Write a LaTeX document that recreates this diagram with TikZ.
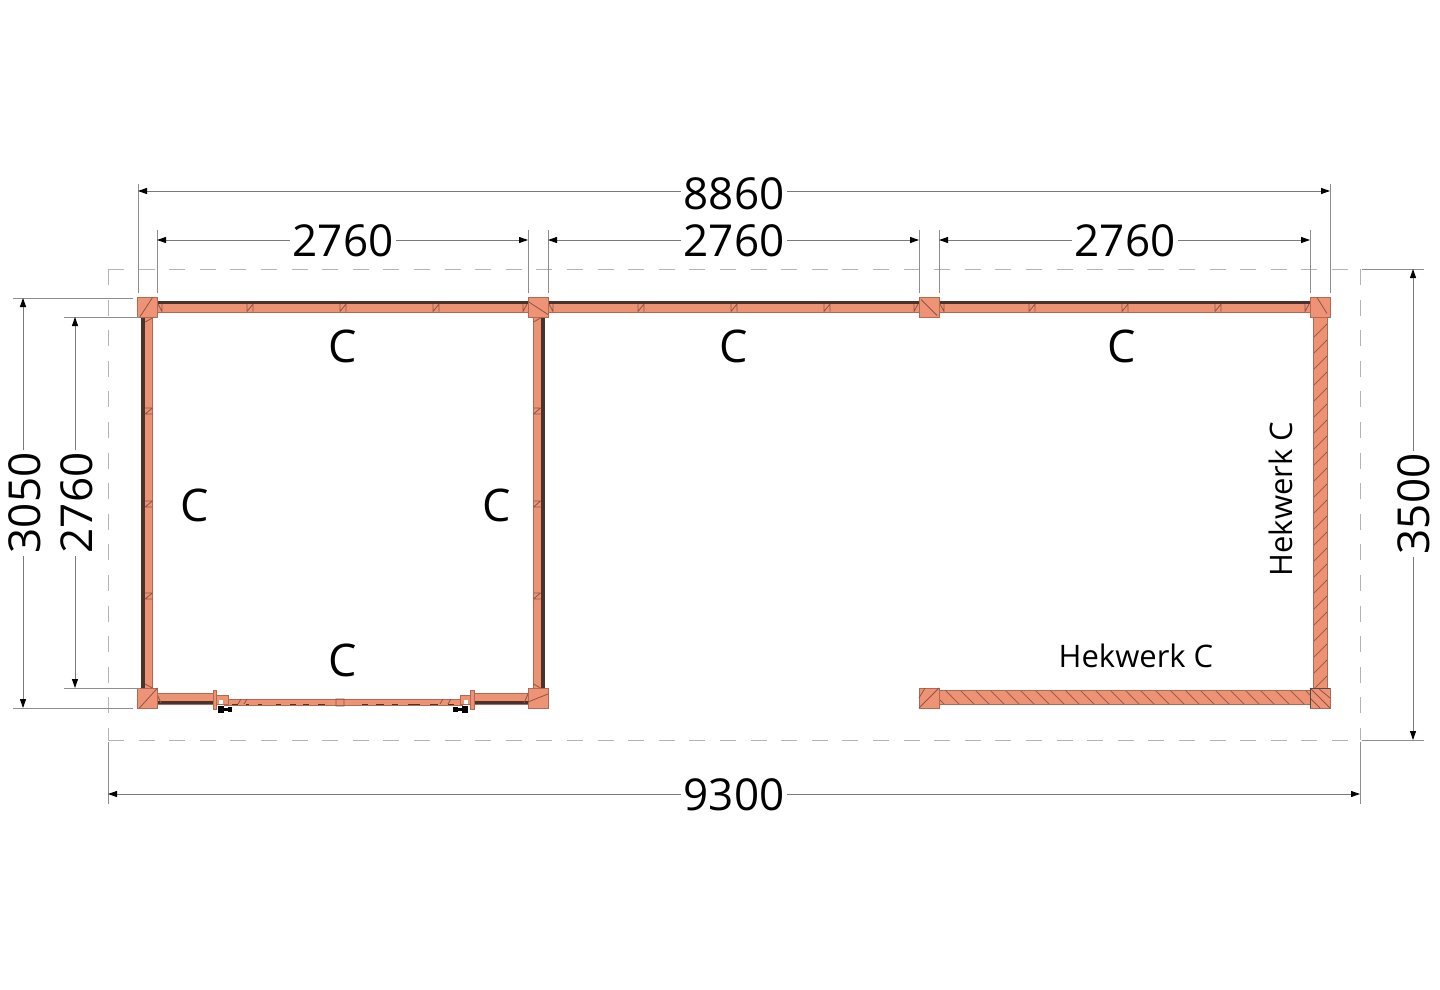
\documentclass[tikz,border=0pt]{standalone}
\usepackage{fontspec}
\setmainfont{Open Sans}
\usetikzlibrary{arrows.meta}
\definecolor{salmon}{HTML}{EE9274}
\definecolor{postfill}{HTML}{EF9377}
\definecolor{edge}{HTML}{B06A52}
\definecolor{darkw}{HTML}{4A332C}
\definecolor{dimgray}{HTML}{7A7A7A}
\definecolor{dashgray}{HTML}{B4B4B4}
\tikzset{
  dimline/.style={draw=dimgray,line width=0.9pt},
  dimarrow/.style={dimline,{Triangle[length=9pt,width=6pt,color=black]}-},
  extline/.style={draw=dimgray!85,line width=0.9pt},
  dashbox/.style={draw=dashgray,line width=1pt,dash pattern=on 16pt off 14.6pt},
  dimtext/.style={font=\fontsize{44}{50}\selectfont,text=black,inner xsep=2pt,inner ysep=0pt,text height=33pt,text depth=0pt},
  walllabel/.style={font=\fontsize{45}{50}\selectfont,text=black,inner sep=0pt},
  heklabel/.style={font=\fontsize{31}{36}\selectfont,text=black,inner sep=0pt},
  postnode/.style={draw=edge,fill=postfill,line width=0.8pt,minimum size=20pt,inner sep=0pt,outer sep=0pt},
  wallbody/.style={fill=salmon,draw=edge,line width=0.6pt},
  darkband/.style={fill=darkw,draw=none},
  seam/.style={draw=edge!80!black,line width=0.8pt},
  hatch/.style={draw=edge!90!black,line width=0.9pt},
}
\begin{document}
\begin{tikzpicture}[x=1pt,y=-1pt]
\useasboundingbox[fill=white] (0,0) rectangle (1440,990);

% dashed outline
\draw[dashbox] (108,269) -- (1360,269);
\draw[dashbox] (108,740) -- (1360,740);
\draw[dashbox] (108,269) -- (108,740);
\draw[dashbox] (1360,269) -- (1360,740);

% top walls
\foreach \xa in {157,548,939}{
  \path[wallbody] (\xa,303) rectangle (\xa+371,312);
  \path[darkband] (\xa,301) rectangle (\xa+371,303.8);
  \foreach \k in {93,186,279}{
    \draw[seam] (\xa+\k-3,304) -- (\xa+\k-3,311.5) (\xa+\k+3,304) -- (\xa+\k+3,311.5) (\xa+\k-3,311.5) -- (\xa+\k+3,304);
  }
  \draw[seam] (\xa+1,304) -- (\xa+5,311.5) (\xa+5,304) -- (\xa+5,312);
  \draw[seam] (\xa+370,304) -- (\xa+366,311.5) (\xa+366,304) -- (\xa+366,312);
}
% left wall
\path[wallbody] (141,317) rectangle (152.5,688);
\path[darkband] (141,317) rectangle (145,688);
\foreach \k in {411,504,596}{
  \draw[seam] (145,\k-3) -- (152.5,\k-3) (145,\k+3) -- (152.5,\k+3) (145,\k+3) -- (152.5,\k-3);
}
\draw[seam] (145,322) -- (152.5,318) (145,684) -- (152.5,688);
% middle wall
\path[wallbody] (533.5,317) rectangle (544.5,688);
\path[darkband] (540.5,317) rectangle (544.5,688);
\foreach \k in {411,504,596}{
  \draw[seam] (533.5,\k-3) -- (540.5,\k-3) (533.5,\k+3) -- (540.5,\k+3) (533.5,\k+3) -- (540.5,\k-3);
}
\draw[seam] (533.5,322) -- (540.5,318) (533.5,684) -- (540.5,688);

% bottom wall with sliding door
\path[wallbody] (157,693.5) rectangle (213,704);
\path[darkband] (157,700.5) rectangle (213,704);
\path[wallbody] (474,693.5) rectangle (528,704);
\path[darkband] (474,700.5) rectangle (528,704);
\draw[seam] (157,694) -- (161,703) (528,694) -- (524,703);
\path[wallbody] (224,699) rectangle (462,705.5);
\path[wallbody] (216,695.5) rectangle (228,704.5);
\path[wallbody] (460,695.5) rectangle (470,704.5);
\path[wallbody] (213,690) rectangle (216.5,709);
\path[wallbody] (470.5,690) rectangle (474,709);
\fill[white] (219,700) rectangle (223,704);
\fill[white] (464,700) rectangle (468,704);
\foreach \xa/\xb in {232/238,246/249,258/262,276/281,290/296,303/309,318/325,362/368,376/384,392/398,408/420,430/438,448/454}{
  \draw[darkw,line width=1.2pt] (\xa,704.8) -- (\xb,704.8);
}
\draw[seam] (238,704) -- (241,699) (244,704) -- (247,699) (336,699) rectangle (344,706) (440,704) -- (443,699) (448,704) -- (451,699);
\fill[black] (217.5,706) rectangle (224,712.5);
\fill[black] (224,708) rectangle (228,710.5);
\fill[black] (228,706.5) rectangle (232,711.5);
\fill[black] (453,706.5) rectangle (458,711.5);
\fill[black] (458,708) rectangle (462,710.5);
\fill[black] (462,706) rectangle (468,712.5);

% fence walls
\begin{scope}
  \clip (1313,317) rectangle (1327,688);
  \fill[salmon] (1313,317) rectangle (1327,688);
  \foreach \yy in {338,354,...,710}{
    \draw[hatch] (1313,\yy) -- (1327,\yy-14);
  }
\end{scope}
\draw[edge,line width=0.8pt] (1313,317) rectangle (1327,688);
\begin{scope}
  \clip (939,690) rectangle (1310,704);
  \fill[salmon] (939,690) rectangle (1310,704);
  \foreach \xx in {930,945,...,1320}{
    \draw[hatch] (\xx,690) -- (\xx+14,704);
  }
\end{scope}
\draw[edge,line width=0.8pt] (939,690) rectangle (1310,704);

% posts
\node[postnode] (p1) at (147.5,307.5) {};
\node[postnode] (p2) at (538,307.5) {};
\node[postnode] (p3) at (929,307.5) {};
\node[postnode] (p4) at (1320,307.5) {};
\node[postnode] (p5) at (147.5,698) {};
\node[postnode] (p6) at (538,698) {};
\node[postnode] (p7) at (929,698) {};
\node[postnode] (p8) at (1320,698) {};
\draw[seam] ([xshift=2pt]p1.south west) -- ([xshift=-5pt]p1.north east);
\draw[seam] ([yshift=-4pt]p2.north west) -- ([yshift=3pt]p2.south east);
\draw[seam] ([xshift=2pt,yshift=-2pt]p3.north west) -- ([xshift=-2pt,yshift=2pt]p3.south east);
\draw[seam] ([xshift=7pt]p4.north west) -- ([xshift=17pt,yshift=4pt]p4.south west);
\draw[seam] ([xshift=2pt]p5.south west) -- (p5.north east);
\draw[seam] ([yshift=6pt]p6.south west) -- ([yshift=-6pt]p6.north east);
\draw[seam] (p7.south west) -- (p7.north east) (p7.west) -- ([xshift=6pt]p7.north west);
\draw[seam] (p8.north west) -- (p8.south east) (p8.west) -- (p8.south) ([xshift=8pt]p8.north west) -- (p8.east);
\draw[black!70,line width=0.6pt] (p8.south west) -- (p8.north west) -- (p8.north east);

% extension lines
\coordinate (e1t) at (138,184); \coordinate (e1b) at (138,293);
\coordinate (e2t) at (1330,184); \coordinate (e2b) at (1330,293);
\draw[extline] (e1t) -- (e1b);
\draw[extline] (e2t) -- (e2b);
\foreach \xa/\nm in {157/a,528/b,548/c,919/d,939/e,1310/f}{
  \coordinate (x\nm t) at (\xa,230);
  \coordinate (x\nm b) at (\xa,293);
  \draw[extline] (x\nm t) -- (x\nm b);
}
\coordinate (l1a) at (13,298); \coordinate (l1b) at (133,298);
\coordinate (l2a) at (13,708); \coordinate (l2b) at (133,708);
\coordinate (l3a) at (64,317); \coordinate (l3b) at (140,317);
\coordinate (l4a) at (64,688); \coordinate (l4b) at (140,688);
\draw[extline] (l1a) -- (l1b);
\draw[extline] (l2a) -- (l2b);
\draw[extline] (l3a) -- (l3b);
\draw[extline] (l4a) -- (l4b);
\coordinate (r1a) at (1362,269); \coordinate (r1b) at (1424,269);
\coordinate (r2a) at (1362,740); \coordinate (r2b) at (1424,740);
\draw[extline] (r1a) -- (r1b);
\draw[extline] (r2a) -- (r2b);
\coordinate (b1a) at (108,742); \coordinate (b1b) at (108,804);
\coordinate (b2a) at (1360,742); \coordinate (b2b) at (1360,804);
\draw[extline] (b1a) -- (b1b);
\draw[extline] (b2a) -- (b2b);

% dimension texts
\node[dimtext,text height=37pt] (d8860) at (734,191) {8860};
\node[dimtext] (d2760a) at (343,240) {2760};
\node[dimtext] (d2760b) at (734,240) {2760};
\node[dimtext] (d2760c) at (1125,240) {2760};
\node[dimtext] (d9300) at (734,794) {9300};
\node[dimtext,rotate=90,text height=35pt] (d3050) at (23,503) {3050};
\node[dimtext,rotate=90,text height=35pt] (d2760v) at (75,503) {2760};
\node[dimtext,rotate=90] (d3500) at (1413,504) {3500};

% dimension lines
\coordinate (a1) at (138,191); \coordinate (a2) at (1330,191);
\draw[dimarrow] (a1) -- (d8860.west);
\draw[dimarrow] (a2) -- (d8860.east);
\coordinate (a3) at (157,240); \coordinate (a4) at (528,240);
\draw[dimarrow] (a3) -- (d2760a.west);
\draw[dimarrow] (a4) -- (d2760a.east);
\coordinate (a5) at (548,240); \coordinate (a6) at (919,240);
\draw[dimarrow] (a5) -- (d2760b.west);
\draw[dimarrow] (a6) -- (d2760b.east);
\coordinate (a7) at (939,240); \coordinate (a8) at (1310,240);
\draw[dimarrow] (a7) -- (d2760c.west);
\draw[dimarrow] (a8) -- (d2760c.east);
\coordinate (a9) at (108,794); \coordinate (a10) at (1360,794);
\draw[dimarrow] (a9) -- (d9300.west);
\draw[dimarrow] (a10) -- (d9300.east);
\coordinate (v1) at (23,298); \coordinate (v2) at (23,708);
\draw[dimarrow] (v1) -- (d3050.east);
\draw[dimarrow] (v2) -- (d3050.west);
\coordinate (v3) at (75,317); \coordinate (v4) at (75,688);
\draw[dimarrow] (v3) -- (d2760v.east);
\draw[dimarrow] (v4) -- (d2760v.west);
\coordinate (v5) at (1413,269); \coordinate (v6) at (1413,740);
\draw[dimarrow] (v5) -- (d3500.east);
\draw[dimarrow] (v6) -- (d3500.west);

% wall labels
\node[walllabel] (c1) at (343,346) {C};
\node[walllabel] (c2) at (734,346) {C};
\node[walllabel] (c3) at (1122,346) {C};
\node[walllabel] (c4) at (195,505) {C};
\node[walllabel] (c5) at (497,505) {C};
\node[walllabel] (c6) at (343,660) {C};
\node[heklabel] (h1) at (1136,656) {Hekwerk C};
\node[heklabel,rotate=90] (h2) at (1281,499) {Hekwerk C};
\end{tikzpicture}
\end{document}
